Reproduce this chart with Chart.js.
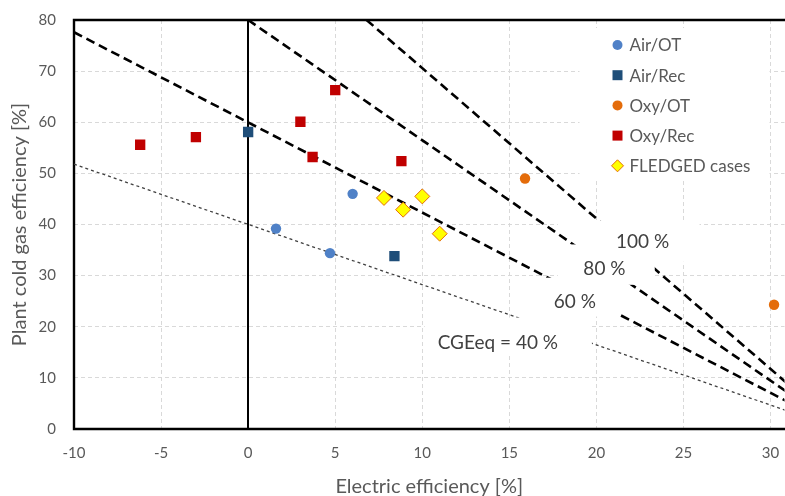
<!DOCTYPE html>
<html>
<head>
<meta charset="utf-8">
<script src="https://cdn.jsdelivr.net/npm/chart.js@4.4.1/dist/chart.umd.min.js"></script>
<style>
  html, body { margin: 0; padding: 0; background: #fff; overflow: hidden; }
  /* a little wider than the window: the plot runs off the right edge as in the original */
  #wrap { width: 793px; height: 496px; }
</style>
</head>
<body>
<div id="wrap"><canvas id="chart"></canvas></div>
<script>
// measured cases
var airOT   = [{x: 1.6, y: 39.2}, {x: 4.7, y: 34.4}, {x: 6.0, y: 46.0}];
var airRec  = [{x: 0.0, y: 58.1}, {x: 8.4, y: 33.8}];
var oxyOT   = [{x: 15.9, y: 49.0}, {x: 30.2, y: 24.3}];
var oxyRec  = [{x: -6.2, y: 55.6}, {x: -3.0, y: 57.1}, {x: 3.0, y: 60.1},
               {x: 3.7, y: 53.2}, {x: 5.0, y: 66.3}, {x: 8.8, y: 52.4}];
var fledged = [{x: 7.8, y: 45.2}, {x: 8.9, y: 42.9}, {x: 10.0, y: 45.5}, {x: 11.0, y: 38.2}];

// iso-CGEeq lines (end points)
var line40  = [{x: -10, y: 51.8}, {x: 31, y: 3.5}];
var line60  = [{x: -10, y: 77.6}, {x: 31, y: 5.3}];
var line80  = [{x: 0, y: 80}, {x: 31, y: 7.1}];
var line100 = [{x: 6.8, y: 80}, {x: 31, y: 8.8}];

var lineLabels = ['CGEeq = 40 %', '60 %', '80 %', '100 %'];
// label anchor [x, y] and white box [x1, y1, x2, y2] in data units
var labelPos = [[14.34, 16.9], [18.76, 24.9], [20.46, 31.4], [22.65, 36.65]];
var labelBox = [[10.14, 21.8, 19.74, 14.7], [16.75, 29.6, 21.34, 22.0],
                [17.78, 36.1, 23.35, 28.2], [17.78, 40.8, 25.92, 32.7]];

var xTicks = [-10, -5, 0, 5, 10, 15, 20, 25, 30];

var seriesNames = ['Air/OT', 'Air/Rec', 'Oxy/OT', 'Oxy/Rec', 'FLEDGED cases'];
var seriesColors = ['#4f81c7', '#1f4e79', '#e46c0a', '#c00000', '#ffff00'];

var FONT = 'Lato';
var TXT = '#595959';

function isoLine(data, thin) {
  return {
    data: data, showLine: true, pointRadius: 0, pointHoverRadius: 0, fill: false,
    borderColor: thin ? '#404040' : '#000', borderWidth: thin ? 1.3 : 2.6,
    borderDash: thin ? [3, 3] : [9, 5], tension: 0
  };
}

var datasets = [
  {label: seriesNames[0], data: airOT, pointStyle: 'circle', pointRadius: 5.2,
   backgroundColor: seriesColors[0], borderColor: seriesColors[0], borderWidth: 0},
  {label: seriesNames[1], data: airRec, pointStyle: 'rect', pointRadius: 7.3,
   backgroundColor: seriesColors[1], borderColor: seriesColors[1], borderWidth: 0},
  {label: seriesNames[2], data: oxyOT, pointStyle: 'circle', pointRadius: 5.2,
   backgroundColor: seriesColors[2], borderColor: seriesColors[2], borderWidth: 0},
  {label: seriesNames[3], data: oxyRec, pointStyle: 'rect', pointRadius: 7.3,
   backgroundColor: seriesColors[3], borderColor: seriesColors[3], borderWidth: 0},
  {label: seriesNames[4], data: fledged, pointStyle: 'rectRot', pointRadius: 7.5,
   backgroundColor: seriesColors[4], borderColor: '#e46c0a', borderWidth: 1},
  isoLine(line40, true),
  isoLine(line60, false),
  isoLine(line80, false),
  isoLine(line100, false)
];
var firstLine = 5;

function marker(ctx, style, x, y, r, fill, stroke) {
  ctx.save();
  ctx.fillStyle = fill;
  ctx.beginPath();
  if (style === 'circle') {
    ctx.arc(x, y, r, 0, Math.PI * 2);
  } else if (style === 'rect') {
    ctx.rect(x - r, y - r, 2 * r, 2 * r);
  } else {
    ctx.moveTo(x, y - r); ctx.lineTo(x + r, y); ctx.lineTo(x, y + r); ctx.lineTo(x - r, y); ctx.closePath();
  }
  ctx.fill();
  if (stroke) { ctx.strokeStyle = stroke; ctx.lineWidth = 1; ctx.stroke(); }
  ctx.restore();
}

var overlay = {
  id: 'overlay',
  beforeDatasetsDraw: function(chart) {
    var ctx = chart.ctx, ca = chart.chartArea, xs = chart.scales.x;
    ctx.save();
    ctx.setLineDash([]);
    ctx.strokeStyle = '#000';
    ctx.lineWidth = 2.4;
    ctx.beginPath();
    ctx.moveTo(ca.right + 2, ca.top); ctx.lineTo(ca.left, ca.top);
    ctx.lineTo(ca.left, ca.bottom); ctx.lineTo(ca.right + 2, ca.bottom);
    ctx.stroke();
    ctx.lineWidth = 2;
    var x0 = Math.round(xs.getPixelForValue(0));
    ctx.beginPath(); ctx.moveTo(x0, ca.top); ctx.lineTo(x0, ca.bottom); ctx.stroke();
    ctx.restore();
  },
  afterDatasetDraw: function(chart, args) {
    var k = args.index - firstLine;
    if (k < 0) return;
    var ctx = chart.ctx, xs = chart.scales.x, ys = chart.scales.y, b = labelBox[k];
    var x1 = xs.getPixelForValue(b[0]), x2 = xs.getPixelForValue(b[2]);
    var y1 = ys.getPixelForValue(b[1]), y2 = ys.getPixelForValue(b[3]);
    ctx.save();
    ctx.fillStyle = '#fff';
    ctx.fillRect(x1, y1, x2 - x1, y2 - y1);
    ctx.restore();
  },
  afterDatasetsDraw: function(chart) {
    var ctx = chart.ctx, ca = chart.chartArea, xs = chart.scales.x, ys = chart.scales.y;
    ctx.save();
    // line labels
    ctx.font = '19px ' + FONT;
    ctx.fillStyle = '#404040';
    ctx.textAlign = 'center';
    ctx.textBaseline = 'middle';
    for (var i = 0; i < lineLabels.length; i++) {
      ctx.fillText(lineLabels[i], xs.getPixelForValue(labelPos[i][0]), ys.getPixelForValue(labelPos[i][1]));
    }
    // legend inside the plot
    var bx = ca.right - 205, by = ca.top + 8;
    ctx.fillStyle = '#fff';
    ctx.fillRect(bx, by, 190, 152);
    var styles = ['circle', 'rect', 'circle', 'rect', 'diamond'];
    var sizes = [5, 5, 5, 5, 6];
    ctx.font = '17px ' + FONT;
    ctx.textAlign = 'left';
    for (var j = 0; j < seriesNames.length; j++) {
      var yy = ca.top + 25 + j * 30.2;
      marker(ctx, styles[j], ca.right - 167, yy, sizes[j], seriesColors[j], j === 4 ? '#e46c0a' : null);
      ctx.fillStyle = TXT;
      ctx.fillText(seriesNames[j], ca.right - 155, yy + 1);
    }
    ctx.restore();
  }
};

new Chart(document.getElementById('chart'), {
  type: 'scatter',
  data: {datasets: datasets},
  plugins: [overlay],
  options: {
    responsive: true,
    maintainAspectRatio: false,
    animation: false,
    layout: {padding: {top: 20, right: 0, bottom: 0, left: 0}},
    plugins: {legend: {display: false}, tooltip: {enabled: false}},
    scales: {
      x: {
        type: 'linear', min: -10, max: 30.8,
        afterBuildTicks: function(s) { s.ticks = xTicks.map(function(v) { return {value: v}; }); },
        afterFit: function(s) { s.height = 67; },
        grid: {color: '#d9d9d9', lineWidth: 1, drawTicks: true, tickLength: 12, tickColor: 'rgba(0,0,0,0)'},
        border: {display: false, dash: [4, 3]},
        ticks: {color: TXT, font: {family: FONT, size: 15}, padding: 3},
        title: {display: true, text: 'Electric efficiency [%]', color: TXT,
                font: {family: FONT, size: 20, lineHeight: 0.9}, padding: 0}
      },
      y: {
        type: 'linear', min: 0, max: 80,
        afterFit: function(s) { s.width = 74; },
        grid: {color: '#d9d9d9', lineWidth: 1, drawTicks: true, tickLength: 16, tickColor: 'rgba(0,0,0,0)'},
        border: {display: false, dash: [4, 3]},
        ticks: {stepSize: 10, color: TXT, font: {family: FONT, size: 15}, padding: 2},
        title: {display: true, text: 'Plant cold gas efficiency [%]', color: TXT,
                font: {family: FONT, size: 20}, padding: {top: 8, bottom: 0}}
      }
    }
  }
});
</script>
</body>
</html>
